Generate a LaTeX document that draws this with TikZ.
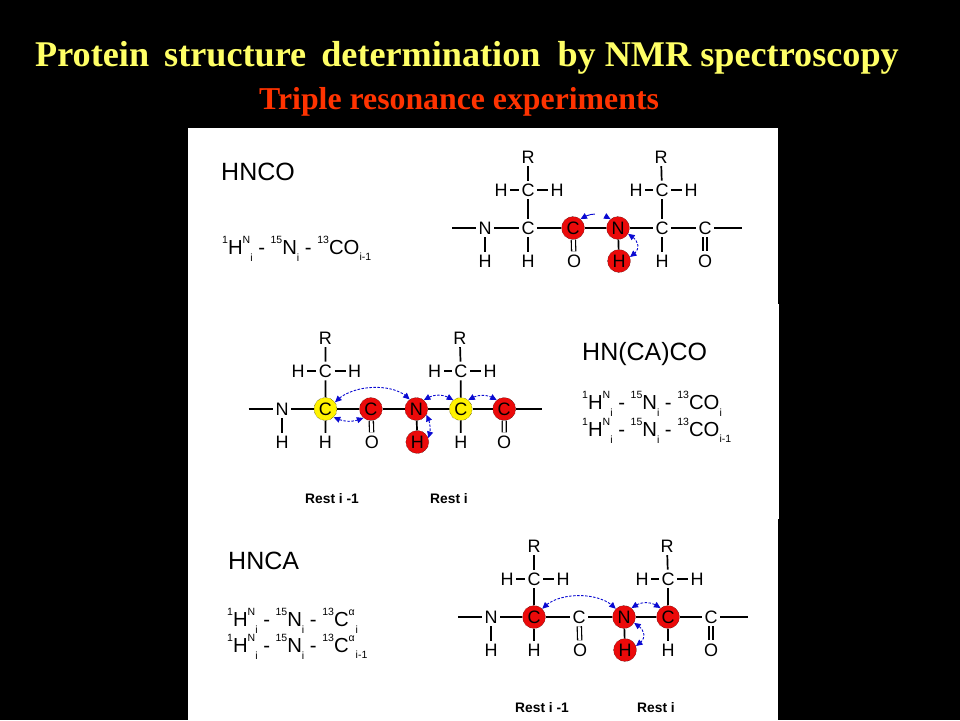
\documentclass[tikz,border=0pt]{standalone}
\usepackage{fontspec}
\setmainfont{Liberation Sans}
\newfontfamily\ttlfont{Liberation Serif}
\usetikzlibrary{arrows.meta,bending}
\definecolor{ttlyellow}{RGB}{255,255,102}
\definecolor{ttlred}{RGB}{255,51,0}
\definecolor{atomR}{RGB}{235,10,10}
\definecolor{flowblue}{RGB}{10,10,210}
\newcommand{\up}[1]{\raisebox{0.5em}{\fontsize{10.5}{10.5}\selectfont #1}}
\newcommand{\dn}[1]{\raisebox{-0.38em}{\fontsize{10.5}{10.5}\selectfont #1}}
\newcommand{\dnsmall}[1]{\raisebox{-0.32em}{\fontsize{10.5}{10.5}\selectfont #1}}
\newcommand{\hnpart}{\up{1}H\up{N}\dn{i} - \up{15}N\dn{i} - \up{13}}
\newcommand{\molscale}{1}
\tikzset{
  x=1pt,y=-1pt,
  atomplain/.style={circle,minimum size=18pt,inner sep=0pt,font=\fontsize{18}{18}\selectfont},
  atomred/.style={atomplain,minimum size=23pt,fill=atomR,draw=black,densely dotted,line width=0.4pt},
  atomyel/.style={atomplain,minimum size=23pt,fill=yellow,draw=black,densely dotted,line width=0.4pt},
  bond/.style={line width=1.7pt,black},
  dbond/.style={line width=1.3pt,black,double=white,double distance=2.8pt},
  flow/.style={flowblue,line width=0.9pt,{Triangle[length=6.5pt,width=6pt,flex]}-{Triangle[length=6.5pt,width=6pt,flex]},dash pattern=on 2.5pt off 1.5pt},
  flowgap/.style={flow,dash pattern=on 9pt off 15pt},
  expname/.style={anchor=base west,inner sep=0pt,font=\fontsize{25}{25}\selectfont},
  formula/.style={anchor=base west,inner sep=0pt,font=\fontsize{20.3}{20.3}\selectfont},
  restlabel/.style={anchor=base west,inner sep=0pt,font=\fontsize{13.8}{13.8}\selectfont\bfseries},
}
% #1 prefix, #2 x, #3 y, #4..#9 styles of Ca1, C'1, N2, H2, Ca2, C'2
\newcommand{\molecule}[9]{%
\begin{scope}[shift={(#2,#3)},xscale=\molscale,name prefix=#1-]
  \coordinate (el) at (-33,0);
  \coordinate (er) at (257,0);
  \node[atomplain] (n1) at (0,0) {N};
  \node[atomplain] (hn1) at (0,33) {H};
  \node[#4] (ca1) at (43,0) {C};
  \node[atomplain] (ha1) at (43,33) {H};
  \node[atomplain] (cb1) at (43,-38) {C};
  \node[atomplain] (hl1) at (16,-38) {H};
  \node[atomplain] (hr1) at (72,-38) {H};
  \node[atomplain] (r1) at (43,-71) {R};
  \node[#5] (co1) at (88,0) {C};
  \node[atomplain] (o1) at (89,33) {O};
  \node[#6] (n2) at (133,0) {N};
  \node[#7] (h2) at (134,33) {H};
  \node[#8] (ca2) at (177,0) {C};
  \node[atomplain] (ha2) at (177,33) {H};
  \node[atomplain] (cb2) at (177,-38) {C};
  \node[atomplain] (hl2) at (151,-38) {H};
  \node[atomplain] (hr2) at (206,-38) {H};
  \node[atomplain] (r2) at (176,-71) {R};
  \node[#9] (co2) at (220,0) {C};
  \node[atomplain] (o2) at (220,33) {O};
  \draw[bond] (el) -- (n1);
  \draw[bond] (n1) -- (ca1);
  \draw[bond] (ca1) -- (co1);
  \draw[bond] (co1) -- (n2);
  \draw[bond] (n2) -- (ca2);
  \draw[bond] (ca2) -- (co2);
  \draw[bond] (co2) -- (er);
  \draw[bond] (n1) -- (hn1);
  \draw[bond] (ca1) -- (ha1);
  \draw[bond] (ca2) -- (ha2);
  \draw[bond] (n2) -- (h2);
  \draw[bond] (ca1) -- (cb1);
  \draw[bond] (ca2) -- (cb2);
  \draw[bond] (cb1) -- (r1);
  \draw[bond] (cb2) -- (r2);
  \draw[bond] (cb1) -- (hl1);
  \draw[bond] (cb1) -- (hr1);
  \draw[bond] (cb2) -- (hl2);
  \draw[bond] (cb2) -- (hr2);
  \draw[dbond] (co1) -- (o1);
  \draw[dbond] (co2) -- (o2);
\end{scope}}
\begin{document}
\begin{tikzpicture}
\useasboundingbox (0,0) rectangle (960,720);
\fill[black] (0,0) rectangle (960,720);
\fill[white] (188,128) rectangle (778,720);
\fill[white] (778,304) rectangle (779,519);
\node[anchor=base west,inner sep=0pt,text=ttlyellow,font=\ttlfont\bfseries\fontsize{36.2}{36.2}\selectfont] (title) at (35,66.5) {Protein\hspace{6pt} structure\hspace{6pt} determination\hspace{8pt} by NMR spectroscopy};
\node[anchor=base west,inner sep=0pt,text=ttlred,font=\ttlfont\bfseries\fontsize{31.8}{31.8}\selectfont] (subtitle) at (259,109) {Triple resonance experiments};

\node[expname] (e1) at (221,180) {HNCO};
\node[formula] (f1) at (222,254) {\hnpart CO\dnsmall{i-1}};
\node[expname] (e2) at (582,360) {HN(CA)CO};
\node[formula] (f2a) at (582,409) {\hnpart CO\dn{i}};
\node[formula] (f2b) at (582,436) {\hnpart CO\dnsmall{i-1}};
\node[expname] (e3) at (228,569) {HNCA};
\node[formula] (f3a) at (227,626) {\hnpart C\rlap{\up{α}}\dn{\hspace{7pt}i}};
\node[formula] (f3b) at (227,652) {\hnpart C\rlap{\up{α}}\dnsmall{\hspace{7pt}i-1}};

\node[restlabel] (r2a) at (305,503) {Rest i -1};
\node[restlabel] (r2b) at (430,503) {Rest i};
\node[restlabel] (r3a) at (515,712) {Rest i -1};
\node[restlabel] (r3b) at (637,712) {Rest i};

\molecule{a}{485}{228}{atomplain}{atomred}{atomred}{atomred}{atomplain}{atomplain}
\renewcommand{\molscale}{1.01}
\molecule{b}{282}{409}{atomyel}{atomred}{atomred}{atomred}{atomyel}{atomred}
\renewcommand{\molscale}{1}
\molecule{c}{491}{617}{atomred}{atomplain}{atomred}{atomred}{atomred}{atomplain}

\draw[flowgap] (a-co1.50) to[bend left=35] (a-n2.130);
\draw[flow] (a-n2.-30) to[out=-30,in=30,looseness=1.5] (a-h2.20);

\draw[flow] (b-ca1.35) to[out=50,in=130,looseness=0.8] (b-n2.125);
\draw[flow] (b-ca1.-45) to[bend right=25] (b-co1.-130);
\draw[flow] (b-n2.-30) to[out=-50,in=50,looseness=0.6] (b-h2.20);
\draw[flow] (b-n2.50) to[bend left=35] (b-ca2.130);
\draw[flow] (b-ca2.50) to[bend left=35] (b-co2.130);

\draw[flow] (c-ca1.45) to[out=50,in=130,looseness=0.8] (c-n2.135);
\draw[flow] (c-n2.50) to[bend left=40] (c-ca2.130);
\draw[flow] (c-n2.-30) to[out=-30,in=30,looseness=1.5] (c-h2.20);
\end{tikzpicture}
\end{document}
